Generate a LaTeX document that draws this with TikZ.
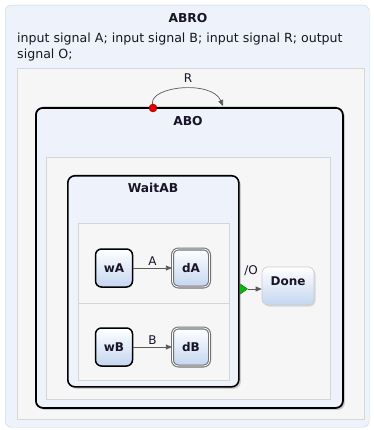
\documentclass[tikz,border=0pt]{standalone}
\usepackage{fontspec}
\setmainfont{DejaVu Sans}
\usetikzlibrary{arrows.meta, positioning, shapes.geometric, shadows}
\definecolor{ChartBlue}{RGB}{238,243,251}
\definecolor{ChartEdge}{RGB}{196,210,230}
\definecolor{RegionGray}{RGB}{246,246,246}
\definecolor{RegionEdge}{RGB}{212,214,218}
\definecolor{StateBlue}{RGB}{196,214,240}
\definecolor{LineGray}{RGB}{90,90,90}
\definecolor{TextDark}{RGB}{25,20,40}

\begin{document}
\begin{tikzpicture}[
    x=1pt, y=-1pt,
    >=Stealth,
    chart/.style={
        draw=ChartEdge, fill=ChartBlue, rounded corners=6pt,
        anchor=north west, inner sep=0pt
    },
    region/.style={
        draw=RegionEdge, fill=RegionGray,
        anchor=north west, inner sep=0pt
    },
    macro/.style={
        draw=black, line width=1.8pt, fill=ChartBlue, rounded corners=7pt,
        anchor=north west, inner sep=0pt,
        drop shadow={opacity=0.35, shadow xshift=2pt, shadow yshift=-2pt}
    },
    statebox/.style={
        draw=black, line width=1.5pt, rounded corners=6pt,
        top color=white, bottom color=StateBlue, text=TextDark,
        minimum width=37pt, minimum height=38pt, inner sep=0pt,
        font=\bfseries\fontsize{12}{13}\selectfont
    },
    finalbox/.style={
        statebox, draw=black!55, double=white, double distance=0.8pt,
        line width=1.1pt
    },
    donebox/.style={
        statebox, draw=black!20, line width=0.6pt,
        minimum width=52pt, minimum height=38pt, text depth=10pt,
        drop shadow={opacity=0.25, shadow xshift=1.5pt, shadow yshift=-1.5pt}
    },
    title/.style={text=TextDark, font=\bfseries\fontsize{12.3}{14}\selectfont},
    lbl/.style={text=TextDark, font=\fontsize{12}{14}\selectfont, inner sep=1pt},
    arr/.style={-{Triangle[length=6pt, width=5pt]}, LineGray, line width=0.7pt},
]
\useasboundingbox (0,0) rectangle (373,430);

%% ABRO chart
\node[chart, minimum width=364pt, minimum height=422pt] (abro) at (5,5) {};
\node[title] (abrot) at (188,18) {ABRO};
\node[anchor=north west, align=left, inner sep=0pt, text=TextDark,
      font=\fontsize{12.6}{16}\selectfont] (decl) at (17,33)
    {input signal A; input signal B; input signal R; output\\signal O;};
\node[region, minimum width=347pt, minimum height=351pt] (top) at (17,68) {};

%% ABO macro state
\node[macro, minimum width=307pt, minimum height=300pt] (abo) at (35,107) {};
\node[title] (abot) at (188,121) {ABO};
\node[region, minimum width=284pt, minimum height=242pt] (aboreg) at (46,157) {};

%% WaitAB
\node[macro, line width=1.6pt, minimum width=171pt, minimum height=211pt,
      drop shadow={opacity=0}] (wait) at (67,175) {};
\node[title] (waitt) at (153,188) {WaitAB};
\node[region, minimum width=151pt, minimum height=80pt] (rega) at (78,223) {};
\node[region, minimum width=151pt, minimum height=77pt] (regb) at (78,303) {};

%% A thread
\node[statebox] (wa) at (114,268) {wA};
\node[finalbox] (da) at (191,268) {dA};
\draw[arr] (wa) -- node[lbl, above=1pt] (la) {A} (da);

%% B thread
\node[statebox] (wb) at (114,347) {wB};
\node[finalbox] (db) at (191,347) {dB};
\draw[arr] (wb) -- node[lbl, above=1pt] (lb) {B} (db);

%% termination
\node[isosceles triangle, isosceles triangle apex angle=70,
      minimum height=7pt, inner sep=0pt,
      fill=green!75!black, draw=green!40!black] (term) at (243,289) {};
\node[donebox] (done) at (288,286) {Done};
\draw[arr] (term.east) -- (done.west |- term.east);
\node[lbl] (lo) at (251,271) {/O};

%% reset R
\node[circle, fill=red!90!black, draw=red!50!black, minimum size=8pt,
      inner sep=0pt] (reset) at (153,108) {};
\coordinate (rtip) at (223,106);
\draw[arr] (reset) .. controls (150,86) and (212,80) .. (rtip);
\node[lbl] (lr) at (188,78) {R};

\end{tikzpicture}
\end{document}
